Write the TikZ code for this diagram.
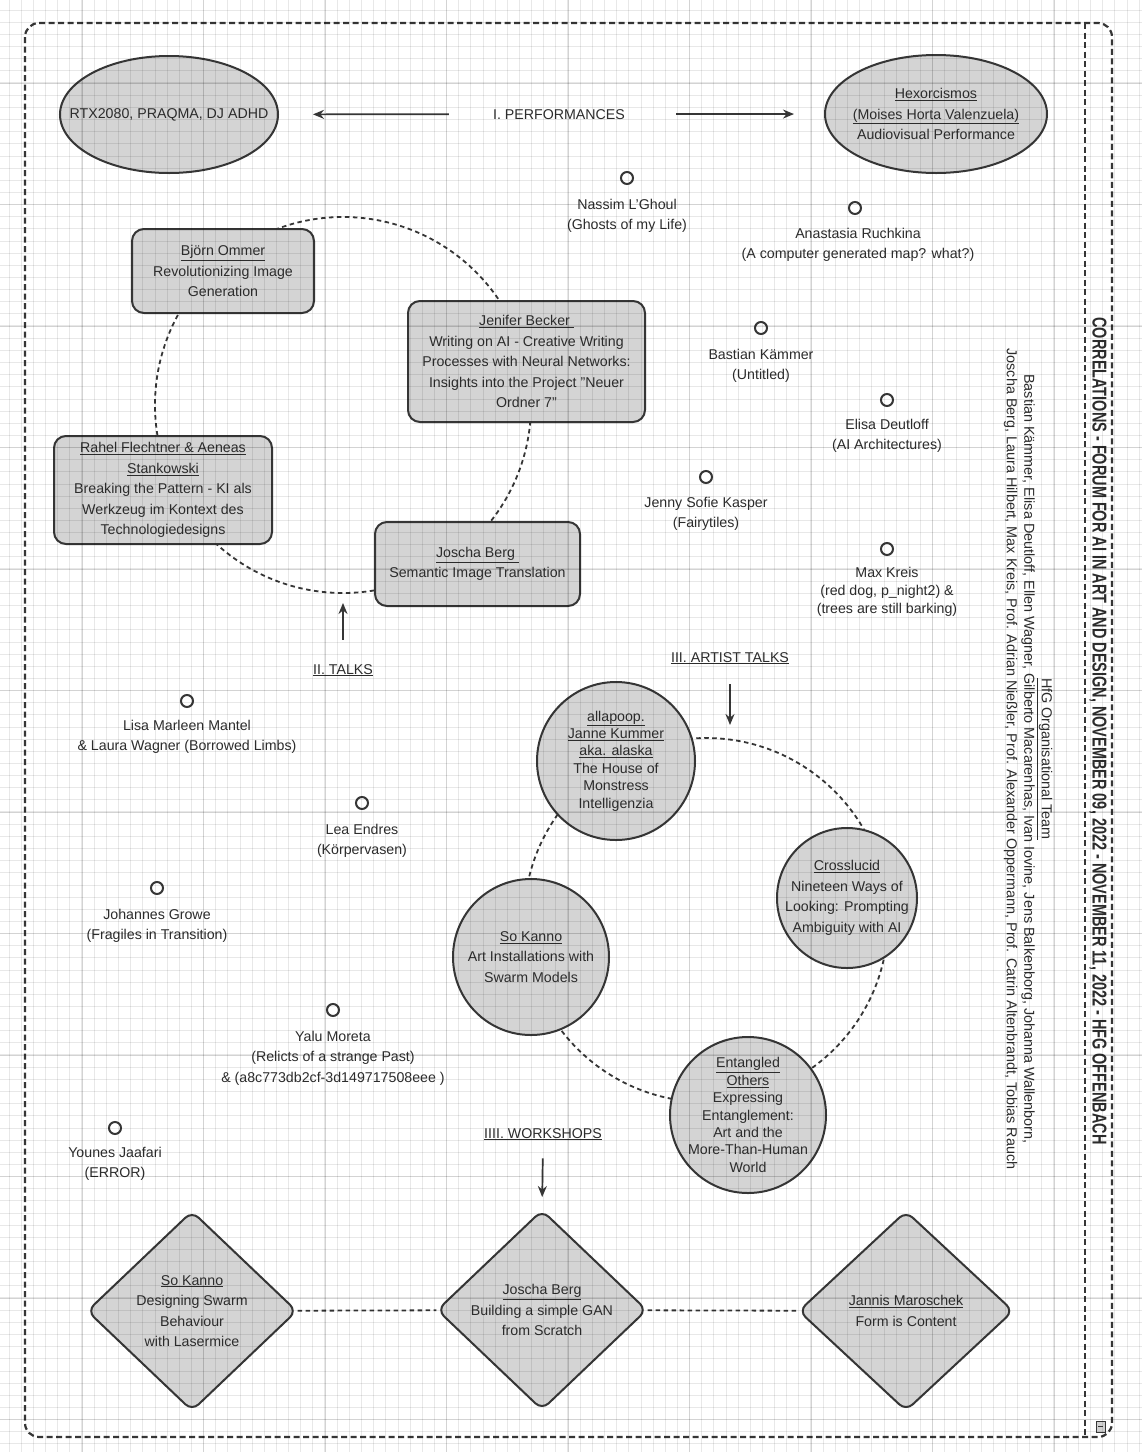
\documentclass[tikz,border=0pt]{standalone}
\usepackage{fontspec}
\usepackage{graphicx}
\setmainfont{Liberation Sans}
\usetikzlibrary{shapes.geometric,arrows.meta}
\pgfdeclarelayer{paper}
\pgfdeclarelayer{links}
\pgfsetlayers{paper,links,main}
\definecolor{ink}{HTML}{363636}
\definecolor{txt}{HTML}{2C2C2C}
\definecolor{shade}{HTML}{D4D4D4}
\begin{document}
\begin{tikzpicture}[x=1pt,y=-1pt,
  every node/.style={text=txt, font=\fontsize{14.2}{20.5}\selectfont},
  shapebox/.style={draw=ink, line width=2pt, fill=shade, align=center, inner sep=0pt},
  talkbox/.style={shapebox, rectangle, rounded corners=12pt},
  perfell/.style={shapebox, ellipse, inner xsep=-40pt, inner ysep=-10pt},
  artcirc/.style={shapebox, circle, inner sep=-12pt},
  tightcirc/.style={artcirc, font=\fontsize{14.2}{17.4}\selectfont},
  wsdiam/.style={shapebox, diamond, aspect=1, inner sep=-8pt, rounded corners=9pt},
  lbl/.style={align=center, inner sep=2pt},
  marker/.style={circle, draw=ink, line width=2pt, minimum size=12pt, inner sep=0pt},
  ring/.style={draw=ink, line width=1.8pt, dash pattern=on 4.5pt off 3.5pt},
  frame/.style={draw=ink, line width=2.2pt, dash pattern=on 6pt off 3.5pt},
  arr/.style={draw=ink, line width=1.7pt, -{Stealth[length=11pt,width=9pt]}},
]
\begin{pgfonlayer}{paper}
\fill[white] (0,0) rectangle (1142,1452);
\end{pgfonlayer}
\useasboundingbox (0,0) rectangle (1142,1452);

% frame
\draw[frame, rounded corners=14pt] (25,23) rectangle (1112,1437);
\draw[frame] (1085,23) -- (1085,1437);
\draw[ink, line width=0.8pt, fill=black!18] (1096,1421) rectangle (1105,1432);
\draw[ink, line width=0.8pt] (1098,1426.5) -- (1103,1426.5);

% performances
\node[perfell, minimum width=218pt, minimum height=117pt] (rtx) at (169,114.5) {RTX2080, PRAQMA, DJ ADHD};
\node[perfell, minimum width=222pt, minimum height=118pt] (hex) at (936,114) {\underline{Hexorcismos}\\\underline{(Moises Horta Valenzuela)}\\Audiovisual Performance};
\node[lbl, anchor=base] (perf) at (559,119) {I. PERFORMANCES};
\draw[arr, shorten <=42pt, shorten >=34pt] (perf) -- (rtx);
\draw[arr, shorten <=49pt, shorten >=30pt] (perf) -- (hex);

% talks
\node[talkbox, minimum width=182pt, minimum height=84pt] (ommer) at (223,271) {\underline{Björn Ommer}\\Revolutionizing Image\\Generation};
\node[talkbox, minimum width=237pt, minimum height=121pt] (becker) at (526.5,361.5) {\underline{Jenifer Becker\ }\\Writing on AI - Creative Writing\\Processes with Neural Networks:\\Insights into the Project "Neuer\\Ordner 7"};
\node[talkbox, minimum width=218pt, minimum height=108pt] (rahel) at (163,490) {\underline{Rahel Flechtner \& Aeneas}\\\underline{Stankowski}\\Breaking the Pattern - KI als\\Werkzeug im Kontext des\\Technologiedesigns};
\node[talkbox, minimum width=205pt, minimum height=84pt] (joscha) at (477.5,564) {\underline{Joscha Berg\ }\\Semantic Image Translation};
\node[lbl, anchor=base] (talks) at (343,674) {\underline{II. TALKS}};
\coordinate (talksend) at (343,603);
\draw[arr, shorten <=22pt] (talks) -- (talksend);

% artist talks
\node[tightcirc, minimum size=158pt] (alla) at (616,761) {\underline{allapoop.}\\\underline{Janne Kummer}\\\underline{aka. alaska}\\The House of\\Monstress\\Intelligenzia};
\node[artcirc, minimum size=140pt] (cross) at (847,898) {\underline{Crosslucid}\\Nineteen Ways of\\Looking: Prompting\\Ambiguity with AI};
\node[artcirc, minimum size=156pt] (kanno) at (531,957) {\underline{So Kanno}\\Art Installations with\\Swarm Models};
\node[tightcirc, minimum size=156pt] (ent) at (748,1115) {\underline{Entangled}\\\underline{Others}\\Expressing\\Entanglement:\\Art and the\\More-Than-Human\\World};
\node[lbl, anchor=base] (arttalks) at (730,662) {\underline{III. ARTIST TALKS}};
\coordinate (artend) at (730,725);
\draw[arr, shorten <=18pt] (arttalks) -- (artend);

% workshops
\node[wsdiam, minimum width=210pt, minimum height=200pt] (wsk) at (192,1311) {\underline{So Kanno}\\Designing Swarm\\Behaviour\\with Lasermice};
\node[wsdiam, minimum width=210pt, minimum height=200pt] (wsb) at (542,1310) {\underline{Joscha Berg}\\Building a simple GAN\\from Scratch};
\node[wsdiam, minimum width=215pt, minimum height=200pt] (wsm) at (906,1311) {\underline{Jannis Maroschek}\\Form is Content};
\node[lbl, anchor=base] (ws) at (543,1138) {\underline{IIII. WORKSHOPS}};
\draw[arr, shorten <=16pt, shorten >=12pt] (ws.south) -- (wsb.north);

% connectors behind nodes
\begin{pgfonlayer}{links}
\draw[ring] (343,405) circle (188);
\draw[ring] (706,920) circle (182);
\draw[ring] (wsk) -- (wsb);
\draw[ring] (wsb) -- (wsm);
\end{pgfonlayer}

% artists (markers and labels)
\node[marker] (m1) at (627,178) {};
\node[lbl] (l1) at (627,216) {Nassim L'Ghoul\\(Ghosts of my Life)};
\node[marker] (m2) at (855,208) {};
\node[lbl] (l2) at (858,245) {Anastasia Ruchkina\\(A computer generated map? what?)};
\node[marker] (m3) at (761,328) {};
\node[lbl] (l3) at (761,366) {Bastian Kämmer\\(Untitled)};
\node[marker] (m4) at (887,400) {};
\node[lbl] (l4) at (887,436) {Elisa Deutloff\\(AI Architectures)};
\node[marker] (m5) at (706,477) {};
\node[lbl] (l5) at (706,514) {Jenny Sofie Kasper\\(Fairytiles)};
\node[marker] (m6) at (887,549) {};
\node[lbl, font=\fontsize{14.2}{18}\selectfont] (l6) at (887,592) {Max Kreis\\(red dog, p\_night2) \&\\(trees are still barking)};
\node[marker] (m7) at (187,701) {};
\node[lbl] (l7) at (187,737) {Lisa Marleen Mantel\\\& Laura Wagner (Borrowed Limbs)};
\node[marker] (m8) at (362,803) {};
\node[lbl] (l8) at (362,841) {Lea Endres\\(Körpervasen)};
\node[marker] (m9) at (157,888) {};
\node[lbl] (l9) at (157,926) {Johannes Growe\\(Fragiles in Transition)};
\node[marker] (m10) at (333,1010) {};
\node[lbl] (l10) at (333,1058) {Yalu Moreta\\(Relicts of a strange Past)\\\& (a8c773db2cf-3d149717508eee )};
\node[marker] (m11) at (115,1128) {};
\node[lbl] (l11) at (115,1164) {Younes Jaafari\\(ERROR)};

% vertical texts
\node[rotate=-90, inner sep=0pt] (title) at (1098,731) {\resizebox{827pt}{14pt}{\bfseries CORRELATIONS - FORUM FOR AI IN ART AND DESIGN, NOVEMBER 09, 2022 - NOVEMBER 11, 2022 - HFG OFFENBACH}};
\node[rotate=-90, align=center, inner sep=0pt, font=\fontsize{14.4}{17.5}\selectfont] (team) at (1028,759) {\underline{HfG Organisational Team}\\Bastian Kämmer, Elisa Deutloff, Ellen Wagner, Gilberto Macarenhas, Ivan Iovine, Jens Balkenborg, Johanna Wallenborn,\\Joscha Berg, Laura Hilbert, Max Kreis, Prof. Adrian Nießler, Prof. Alexander Oppermann, Prof. Catrin Altenbrandt, Tobias Rauch};

% graph paper grid on top
\begin{scope}[line width=0.8pt, draw=black, draw opacity=0.09]
\foreach \i in {0,...,93} {\draw ({9.1+\i*12.15},0) -- ({9.1+\i*12.15},1452);}
\foreach \j in {0,...,119} {\draw (0,{10.1+\j*12.15}) -- (1142,{10.1+\j*12.15});}
\end{scope}
\begin{scope}[line width=1.2pt, draw=black, draw opacity=0.09]
\foreach \i in {0,...,9} {\draw ({82+\i*121.5},0) -- ({82+\i*121.5},1452);}
\foreach \j in {0,...,11} {\draw (0,{83+\j*121.5}) -- (1142,{83+\j*121.5});}
\end{scope}
\end{tikzpicture}
\end{document}
